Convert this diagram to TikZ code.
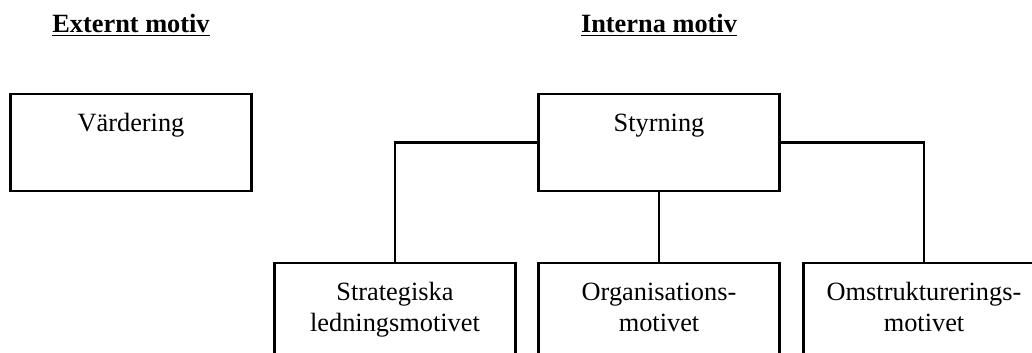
\documentclass[tikz,border=0pt]{standalone}
\usepackage{fontspec}
\setmainfont{Liberation Serif}
\begin{document}
\begin{tikzpicture}[x=0.016cm,y=-0.016cm,
    motiv/.style={draw, line width=1.1pt, anchor=north, inner sep=0pt,
        text width=3.86cm, minimum width=3.86cm, align=center,
        text height=0.59cm, font=\fontsize{12}{14.5}\selectfont},
    heading/.style={anchor=base, inner sep=0pt, font=\fontsize{12}{14.5}\selectfont\bfseries},
    link/.style={line width=1.1pt}]
    \useasboundingbox (0,0) rectangle (1032,353);
    \clip (0,0) rectangle (1032,353);

    % headings
    \node[heading] (ext) at (131,32) {\underline{Externt motiv}};
    \node[heading] (int) at (659,32) {\underline{Interna motiv}};

    % top boxes
    \node[motiv, text depth=0.96cm] (vard) at (131,93) {Värdering};
    \node[motiv, text depth=0.96cm] (styr) at (659,93) {Styrning};

    % bottom boxes
    \node[motiv, text depth=2cm] (strat) at (395,262) {Strategiska\\ledningsmotivet};
    \node[motiv, text depth=2cm] (org) at (659,262) {Organisations-\\motivet};
    \node[motiv, text depth=2cm] (omstr) at (924,262) {Omstrukturerings-\\motivet};

    % connectors
    \draw[link] (styr.west) -| (strat.north);
    \draw[link] (styr.south) -- (org.north);
    \draw[link] (styr.east) -| (omstr.north);
\end{tikzpicture}
\end{document}
